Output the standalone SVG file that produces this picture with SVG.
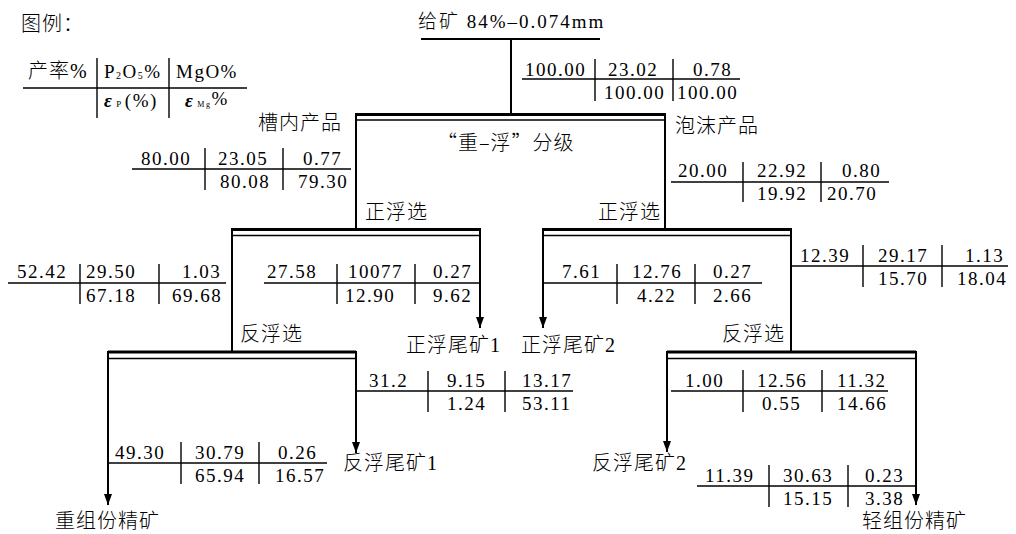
<svg xmlns="http://www.w3.org/2000/svg" width="1016" height="534" viewBox="0 0 1016 534">
<style>
text{fill:#000}
.n{font-family:"Liberation Serif","Noto Sans CJK SC",serif;font-size:19px;letter-spacing:1.5px;font-weight:300}
.c{font-family:"Noto Sans CJK SC","Liberation Serif",sans-serif;font-size:20px;letter-spacing:1px;font-weight:300}
.m{font-family:"Liberation Serif","Noto Sans CJK SC",serif;font-size:20px;letter-spacing:1px;font-weight:300}
.tl{stroke:#000;stroke-width:1.4;fill:none}
.ln{stroke:#000;stroke-width:2;fill:none}
.thick{stroke:#000;stroke-width:3;fill:none}
.thin{stroke:#000;stroke-width:1.5;fill:none}
</style>
<defs>
<marker id="arr" markerUnits="userSpaceOnUse" markerWidth="8" markerHeight="11" refX="4" refY="11" orient="0" viewBox="0 0 8 11">
<path d="M0,0 L8,0 L4,11 Z" fill="#000"/>
</marker>
</defs>

<!-- legend -->
<g id="legend">
<text x="21" y="31" class="c">图例：</text>
<line x1="23" y1="88" x2="247" y2="88" class="tl"/>
<line x1="97" y1="58" x2="97" y2="118" class="tl"/>
<line x1="169" y1="58" x2="169" y2="118" class="tl"/>
<text x="28" y="78" class="m">产率%</text>
<text x="104" y="78" class="n">P<tspan font-size="10" dy="1">2</tspan><tspan dy="-1">O</tspan><tspan font-size="10" dy="1">5</tspan><tspan dy="-1">%</tspan></text>
<text x="176" y="78" class="n">MgO%</text>
<text x="104" y="107" class="n"><tspan font-style="italic" font-weight="bold">ε</tspan><tspan font-size="9" dx="3">P</tspan><tspan dx="2">(%)</tspan></text>
<text x="185" y="107" class="n"><tspan font-style="italic" font-weight="bold">ε</tspan><tspan font-size="8" dx="3">Mg</tspan><tspan dy="-2">%</tspan></text>
</g>

<!-- connectors -->
<g id="connectors">
<line x1="421" y1="39" x2="600" y2="39" class="ln"/>
<line x1="511" y1="39" x2="511" y2="113" class="ln"/>
<line x1="356" y1="113" x2="356" y2="228" class="ln"/>
<line x1="665" y1="113" x2="665" y2="228" class="ln"/>
<line x1="232" y1="228" x2="232" y2="351" class="ln"/>
<line x1="480" y1="228" x2="480" y2="328" class="ln" marker-end="url(#arr)"/>
<line x1="543" y1="228" x2="543" y2="328" class="ln" marker-end="url(#arr)"/>
<line x1="791" y1="228" x2="791" y2="351" class="ln"/>
<line x1="108" y1="351" x2="108" y2="505" class="ln" marker-end="url(#arr)"/>
<line x1="356" y1="351" x2="356" y2="453" class="ln" marker-end="url(#arr)"/>
<line x1="667" y1="351" x2="667" y2="452" class="ln" marker-end="url(#arr)"/>
<line x1="916" y1="351" x2="916" y2="505" class="ln" marker-end="url(#arr)"/>
</g>

<!-- nodes -->
<g id="feed">
<text x="418" y="28" class="n" style="letter-spacing:2px">给矿 84%–0.074mm</text>
</g>

<g id="classify">
<line x1="356" y1="114.5" x2="665" y2="114.5" class="thick"/>
<line x1="356" y1="120" x2="665" y2="120" class="thin"/>
<text x="437" y="150" class="c">“重–浮”分级</text>
</g>
<g id="label-sink"><text x="258" y="130" class="c">槽内产品</text></g>
<g id="label-froth"><text x="675" y="133" class="c">泡沫产品</text></g>

<g id="flot-left">
<line x1="232" y1="229.5" x2="480" y2="229.5" class="thick"/>
<line x1="232" y1="235.5" x2="480" y2="235.5" class="thin"/>
<text x="365" y="219" class="c">正浮选</text>
</g>
<g id="flot-right">
<line x1="543" y1="229.5" x2="791" y2="229.5" class="thick"/>
<line x1="543" y1="235.5" x2="791" y2="235.5" class="thin"/>
<text x="598" y="219" class="c">正浮选</text>
</g>
<g id="rev-left">
<line x1="108" y1="352" x2="356" y2="352" class="thick"/>
<line x1="108" y1="358.5" x2="356" y2="358.5" class="thin"/>
<text x="240" y="341" class="c">反浮选</text>
</g>
<g id="rev-right">
<line x1="667" y1="352" x2="916" y2="352" class="thick"/>
<line x1="667" y1="358.5" x2="916" y2="358.5" class="thin"/>
<text x="722" y="341" class="c">反浮选</text>
</g>

<g id="tail1"><text x="406" y="352" class="m">正浮尾矿1</text></g>
<g id="tail2"><text x="521" y="352" class="m">正浮尾矿2</text></g>
<g id="rtail1"><text x="343" y="470" class="m">反浮尾矿1</text></g>
<g id="rtail2"><text x="592" y="470" class="m">反浮尾矿2</text></g>
<g id="heavy"><text x="55" y="528" class="m">重组份精矿</text></g>
<g id="light"><text x="862" y="528" class="m">轻组份精矿</text></g>

<!-- data tables -->
<g id="t-feed">
<line x1="522" y1="79" x2="740" y2="79" class="tl"/>
<line x1="595" y1="59" x2="595" y2="101" class="tl"/>
<line x1="673" y1="59" x2="673" y2="101" class="tl"/>
<text x="525" y="76" class="n">100.00</text><text x="608" y="76" class="n">23.02</text><text x="693" y="76" class="n">0.78</text>
<text x="604" y="99" class="n">100.00</text><text x="677" y="99" class="n">100.00</text>
</g>
<g id="t-sink">
<line x1="132" y1="169" x2="351" y2="169" class="tl"/>
<line x1="205" y1="148" x2="205" y2="190" class="tl"/>
<line x1="283" y1="148" x2="283" y2="190" class="tl"/>
<text x="141" y="165" class="n">80.00</text><text x="218" y="165" class="n">23.05</text><text x="303" y="165" class="n">0.77</text>
<text x="220" y="188" class="n">80.08</text><text x="298" y="188" class="n">79.30</text>
</g>
<g id="t-froth">
<line x1="671" y1="182" x2="889" y2="182" class="tl"/>
<line x1="743" y1="162" x2="743" y2="202" class="tl"/>
<line x1="821" y1="162" x2="821" y2="202" class="tl"/>
<text x="678" y="177" class="n">20.00</text><text x="757" y="177" class="n">22.92</text><text x="842" y="177" class="n">0.80</text>
<text x="757" y="200" class="n">19.92</text><text x="827" y="200" class="n">20.70</text>
</g>
<g id="t-52">
<line x1="8" y1="283" x2="226" y2="283" class="tl"/>
<line x1="80" y1="264" x2="80" y2="304" class="tl"/>
<line x1="159" y1="264" x2="159" y2="304" class="tl"/>
<text x="17" y="278" class="n">52.42</text><text x="86" y="278" class="n">29.50</text><text x="182" y="278" class="n">1.03</text>
<text x="86" y="302" class="n">67.18</text><text x="172" y="302" class="n">69.68</text>
</g>
<g id="t-27">
<line x1="264" y1="283" x2="480" y2="283" class="tl"/>
<line x1="337" y1="264" x2="337" y2="304" class="tl"/>
<line x1="415" y1="264" x2="415" y2="304" class="tl"/>
<text x="267" y="278" class="n">27.58</text><text x="348" y="278" class="n">10077</text><text x="433" y="278" class="n">0.27</text>
<text x="345" y="302" class="n">12.90</text><text x="433" y="302" class="n">9.62</text>
</g>
<g id="t-7">
<line x1="543" y1="283" x2="762" y2="283" class="tl"/>
<line x1="617" y1="264" x2="617" y2="304" class="tl"/>
<line x1="695" y1="264" x2="695" y2="304" class="tl"/>
<text x="562" y="278" class="n">7.61</text><text x="632" y="278" class="n">12.76</text><text x="713" y="278" class="n">0.27</text>
<text x="637" y="302" class="n">4.22</text><text x="713" y="302" class="n">2.66</text>
</g>
<g id="t-12">
<line x1="791" y1="266" x2="1008" y2="266" class="tl"/>
<line x1="863" y1="245" x2="863" y2="287" class="tl"/>
<line x1="942" y1="245" x2="942" y2="287" class="tl"/>
<text x="800" y="262" class="n">12.39</text><text x="878" y="262" class="n">29.17</text><text x="965" y="262" class="n">1.13</text>
<text x="878" y="285" class="n">15.70</text><text x="957" y="285" class="n">18.04</text>
</g>
<g id="t-31">
<line x1="356" y1="391" x2="573" y2="391" class="tl"/>
<line x1="428" y1="371" x2="428" y2="412" class="tl"/>
<line x1="505" y1="371" x2="505" y2="412" class="tl"/>
<text x="369" y="387" class="n">31.2</text><text x="447" y="387" class="n">9.15</text><text x="522" y="387" class="n">13.17</text>
<text x="447" y="410" class="n">1.24</text><text x="522" y="410" class="n">53.11</text>
</g>
<g id="t-49">
<line x1="108" y1="463" x2="327" y2="463" class="tl"/>
<line x1="181" y1="442" x2="181" y2="484" class="tl"/>
<line x1="259" y1="442" x2="259" y2="484" class="tl"/>
<text x="115" y="459" class="n">49.30</text><text x="195" y="459" class="n">30.79</text><text x="278" y="459" class="n">0.26</text>
<text x="195" y="482" class="n">65.94</text><text x="275" y="482" class="n">16.57</text>
</g>
<g id="t-1">
<line x1="671" y1="391" x2="888" y2="391" class="tl"/>
<line x1="743" y1="370" x2="743" y2="412" class="tl"/>
<line x1="822" y1="370" x2="822" y2="412" class="tl"/>
<text x="685" y="387" class="n">1.00</text><text x="757" y="387" class="n">12.56</text><text x="837" y="387" class="n">11.32</text>
<text x="762" y="410" class="n">0.55</text><text x="837" y="410" class="n">14.66</text>
</g>
<g id="t-11">
<line x1="697" y1="486" x2="916" y2="486" class="tl"/>
<line x1="769" y1="465" x2="769" y2="507" class="tl"/>
<line x1="848" y1="465" x2="848" y2="507" class="tl"/>
<text x="705" y="482" class="n">11.39</text><text x="783" y="482" class="n">30.63</text><text x="865" y="482" class="n">0.23</text>
<text x="783" y="505" class="n">15.15</text><text x="865" y="505" class="n">3.38</text>
</g>
</svg>
